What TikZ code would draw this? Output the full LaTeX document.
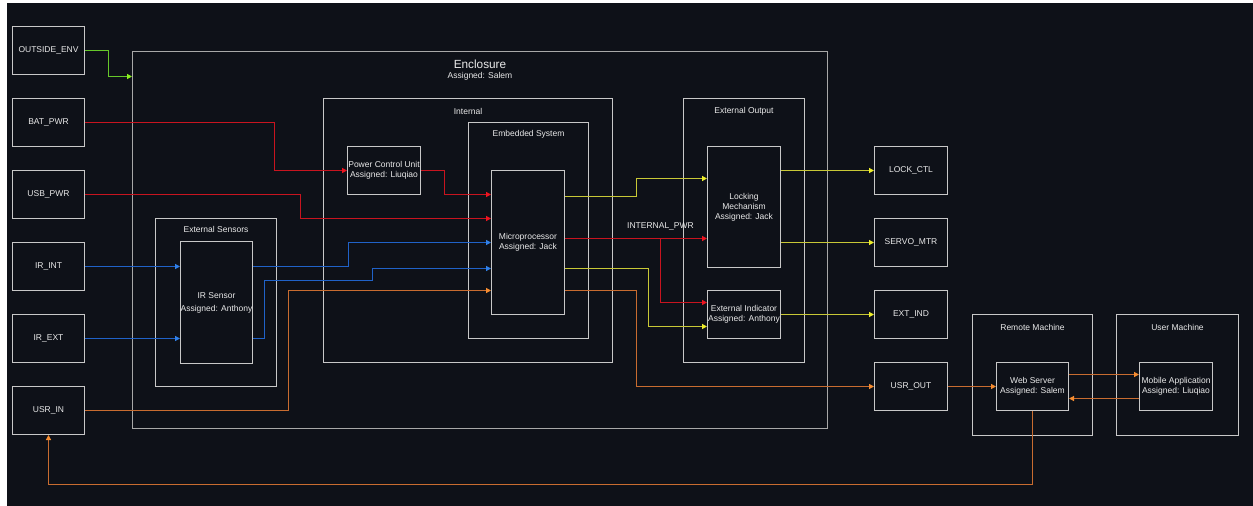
\documentclass[tikz,border=0pt]{standalone}
\usepackage{fontspec}
\setmainfont{Liberation Sans}
\usetikzlibrary{arrows.meta,calc}
\definecolor{bg}{HTML}{0E1118}
\definecolor{boxc}{HTML}{C8C8C8}
\definecolor{encc}{HTML}{A8A8A8}
\definecolor{txt}{HTML}{EAEAEA}
\definecolor{cRed}{HTML}{C8141F}
\definecolor{aRed}{HTML}{EE1420}
\definecolor{cBlue}{HTML}{2062C8}
\definecolor{aBlue}{HTML}{3080E8}
\definecolor{cOra}{HTML}{C86C30}
\definecolor{aOra}{HTML}{F58C30}
\definecolor{cYel}{HTML}{C8C836}
\definecolor{aYel}{HTML}{EEEE2A}
\definecolor{cGrn}{HTML}{66C82A}
\definecolor{aGrn}{HTML}{8AEE1E}
\newcommand{\fs}{\fontsize{8.5}{10}\selectfont}
\tikzset{
  box/.style={draw=boxc, line width=1pt, inner sep=0pt, text=txt, font=\fs, align=center},
  cont/.style={draw=boxc, line width=1pt, inner sep=0pt},
  ttl/.style={text=txt, font=\fs, inner sep=0pt},
  link/.style={line width=1.5pt},
  rl/.style={link, draw=cRed, -{Triangle[length=5pt,width=5pt,color=aRed]}},
  bl/.style={link, draw=cBlue, -{Triangle[length=5pt,width=5pt,color=aBlue]}},
  ol/.style={link, draw=cOra, -{Triangle[length=5pt,width=5pt,color=aOra]}},
  yl/.style={link, draw=cYel, -{Triangle[length=5pt,width=5pt,color=aYel]}},
  gl/.style={link, draw=cGrn, -{Triangle[length=5pt,width=5pt,color=aGrn]}},
}
\begin{document}
\begin{tikzpicture}[x=1pt,y=-1pt]
\fill[white] (0,0) rectangle (1253,506);
\fill[bg] (7,3) rectangle (1253,506);
\useasboundingbox (0,0) rectangle (1253,506);
\begin{scope}[shift={(0.5,0.5)}]
% enclosure and containers
\node[cont, draw=encc, minimum width=695, minimum height=377] (encl) at (479.5,239.5) {};
\node[text=txt, inner sep=0pt, font=\fontsize{11.8}{12}\selectfont] (enclT) at (479.5,64) {Enclosure};
\node[ttl] (enclA) at (479.5,76) {Assigned: Salem};

\node[cont, minimum width=121, minimum height=168] (extsens) at (215.5,302) {};
\node[ttl] (extsensT) at (215.5,229) {External Sensors};
\node[cont, minimum width=289, minimum height=264] (internal) at (467.5,230) {};
\node[ttl] (internalT) at (467.5,111) {Internal};
\node[cont, minimum width=120, minimum height=216] (emb) at (528,230) {};
\node[ttl] (embT) at (528,134) {Embedded System};
\node[cont, minimum width=121, minimum height=264] (extout) at (743.5,230) {};
\node[ttl] (extoutT) at (743.5,111) {External Output};
\node[cont, minimum width=120, minimum height=121] (remote) at (1032,374.5) {};
\node[ttl] (remoteT) at (1032,327) {Remote Machine};
\node[cont, minimum width=122, minimum height=121] (userm) at (1177,374.5) {};
\node[ttl] (usermT) at (1177,327) {User Machine};

% left boxes
\node[box, minimum width=72, minimum height=48] (outside) at (48,50) {OUTSIDE\_ENV};
\node[box, minimum width=72, minimum height=48] (bat) at (48,122) {BAT\_PWR};
\node[box, minimum width=72, minimum height=48] (usb) at (48,194) {USB\_PWR};
\node[box, minimum width=72, minimum height=48] (irint) at (48,266) {IR\_INT};
\node[box, minimum width=72, minimum height=48] (irext) at (48,338) {IR\_EXT};
\node[box, minimum width=72, minimum height=48] (usrin) at (48,410) {USR\_IN};

% inner boxes
\node[box, minimum width=72, minimum height=122, font=\fontsize{8.5}{13}\selectfont] (irs) at (216,302) {IR Sensor\\Assigned: Anthony};
\node[box, minimum width=73, minimum height=48] (pcu) at (383.5,170) {Power Control Unit\\Assigned: Liuqiao};
\node[box, minimum width=73, minimum height=144] (micro) at (527.5,242) {Microprocessor\\Assigned: Jack};
\node[box, minimum width=73, minimum height=121] (lock) at (743.5,206.5) {Locking\\Mechanism\\Assigned: Jack};
\node[box, minimum width=73, minimum height=48] (extind) at (743.5,314) {External Indicator\\Assigned: Anthony};

% right boxes
\node[box, minimum width=73, minimum height=48] (lockctl) at (910.5,170) {LOCK\_CTL};
\node[box, minimum width=73, minimum height=48] (servo) at (910.5,242) {SERVO\_MTR};
\node[box, minimum width=73, minimum height=48] (extindo) at (910.5,314) {EXT\_IND};
\node[box, minimum width=73, minimum height=48] (usrout) at (910.5,386) {USR\_OUT};
\node[box, minimum width=72, minimum height=48] (web) at (1032,386) {Web Server\\Assigned: Salem};
\node[box, minimum width=73, minimum height=48] (mobile) at (1175.5,386) {Mobile Application\\Assigned: Liuqiao};

% connectors
\draw[gl] (outside.east) -- (108,50) -- (108,76) -- (encl.west |- 0,76);
\draw[rl] (bat.east) -- (274,122) -- (274,170) -- (pcu.west);
\draw[rl] (usb.east) -- (300,194) -- (300,218) -- (micro.west |- 0,218);
\draw[bl] (irint.east) -- (irs.west |- 0,266);
\draw[bl] (irext.east) -- (irs.west |- 0,338);
\draw[bl] (irs.east |- 0,266) -- (348,266) -- (348,242) -- (micro.west |- 0,242);
\draw[bl] (irs.east |- 0,338) -- (264,338) -- (264,280) -- (372,280) -- (372,268) -- (micro.west |- 0,268);
\draw[ol] (usrin.east) -- (288,410) -- (288,290) -- (micro.west |- 0,290);
\draw[rl] (pcu.east) -- (444,170) -- (444,194) -- (micro.west |- 0,194);
\draw[yl] (micro.east |- 0,196) -- (636,196) -- (636,178) -- (lock.west |- 0,178);
\draw[rl] (micro.east |- 0,238) -- (lock.west |- 0,238);
\coordinate (br) at (660,238);
\draw[rl] (br) -- (660,302) -- (extind.west |- 0,302);
\node[ttl] (ipwr) at (660,226) {INTERNAL\_PWR};
\draw[yl] (micro.east |- 0,268) -- (648,268) -- (648,326) -- (extind.west |- 0,326);
\draw[ol] (micro.east |- 0,290) -- (636,290) -- (636,386) -- (usrout.west);
\draw[yl] (lock.east |- 0,170) -- (lockctl.west);
\draw[yl] (lock.east |- 0,242) -- (servo.west);
\draw[yl] (extind.east) -- (extindo.west);
\draw[ol] (usrout.east) -- (web.west);
\draw[ol] (web.east |- 0,374) -- (mobile.west |- 0,374);
\draw[ol] (mobile.west |- 0,398) -- (web.east |- 0,398);
\draw[ol] (web.south) -- (web.south |- 0,484) -- (usrin.south |- 0,484) -- (usrin.south);
\end{scope}
\end{tikzpicture}
\end{document}
